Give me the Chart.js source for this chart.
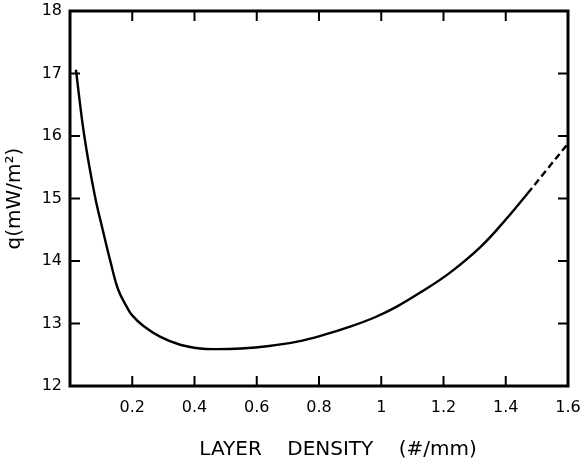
<!DOCTYPE html>
<html>
<head>
<meta charset="utf-8">
<script src="https://cdn.jsdelivr.net/npm/chart.js@4"></script>
<style>
  html, body { margin: 0; padding: 0; background: #fff; }
  #wrap { width: 587px; height: 464px; }
</style>
</head>
<body>
<div id="wrap"><canvas id="heat-graph"></canvas></div>
<script>
// layer density (#/mm) vs heat flux q (mW/m^2)
const densityX = [0.019, 0.046, 0.08, 0.107, 0.131, 0.155, 0.182, 0.2, 0.236, 0.289, 0.354, 0.418, 0.47, 0.55, 0.64, 0.73, 0.81, 0.9, 0.98, 1.05, 1.13, 1.22, 1.32, 1.41, 1.47, 1.53, 1.6];
const heatQ = [17.06, 16.0, 15.04, 14.46, 13.97, 13.54, 13.27, 13.13, 12.96, 12.79, 12.66, 12.6, 12.59, 12.6, 12.64, 12.71, 12.81, 12.95, 13.1, 13.27, 13.51, 13.81, 14.23, 14.72, 15.08, 15.45, 15.88];
// beyond this density the curve is drawn dashed (extrapolated)
const dashFrom = 1.47;
const xTicks = [0, 0.2, 0.4, 0.6, 0.8, 1, 1.2, 1.4, 1.6];
const yTicks = [12, 13, 14, 15, 16, 17, 18];

const FONT = "'DejaVu Sans', sans-serif";

// frame + inward tick marks on all four sides
const frameTicks = {
    id: 'frameTicks',
    afterDatasetsDraw(chart) {
        const { ctx, chartArea: a, scales } = chart;
        const x = scales.x, y = scales.y;
        const len = 10;
        ctx.save();
        ctx.strokeStyle = '#000';
        ctx.lineWidth = 2;
        ctx.beginPath();
        for (let v of xTicks) {
            let px = x.getPixelForValue(v);
            ctx.moveTo(px, a.bottom); ctx.lineTo(px, a.bottom - len);
            ctx.moveTo(px, a.top); ctx.lineTo(px, a.top + len);
        }
        for (let v of yTicks) {
            let py = y.getPixelForValue(v);
            ctx.moveTo(a.left, py); ctx.lineTo(a.left + len, py);
            ctx.moveTo(a.right, py); ctx.lineTo(a.right - len, py);
        }
        ctx.stroke();
        ctx.lineWidth = 3;
        ctx.strokeRect(a.left, a.top, a.right - a.left, a.bottom - a.top);
        ctx.restore();
    }
};

var ctx = document.getElementById('heat-graph');
var chart = new Chart(ctx, {
    type: 'line',
    data: {
        datasets: [
            {
                label: 'q',
                data: densityX.map((d, i) => ({ x: d, y: heatQ[i] })),
                borderColor: '#000',
                borderWidth: 2.4,
                pointRadius: 0,
                fill: false,
                tension: 0.4,
                segment: {
                    borderDash: c => c.p0.parsed.x >= dashFrom ? [7, 4] : undefined
                }
            }
        ]
    },
    options: {
        responsive: true,
        maintainAspectRatio: false,
        animation: false,
        layout: { padding: { top: 11, right: 19, left: 0, bottom: 0 } },
        plugins: {
            legend: { display: false },
            tooltip: { enabled: false }
        },
        scales: {
            x: {
                type: 'linear',
                min: 0,
                max: 1.6,
                afterFit: s => { s.height = 78; s.paddingLeft = 0; s.paddingRight = 0; },
                afterBuildTicks: s => { s.ticks = xTicks.map(v => ({ value: v })); },
                grid: { display: false, drawTicks: false },
                border: { display: false },
                ticks: {
                    padding: 12,
                    color: '#000',
                    font: { family: FONT, size: 16 },
                    callback: v => v === 0 ? '' : String(Math.round(v * 10) / 10)
                },
                title: {
                    display: true,
                    text: '      LAYER    DENSITY    (#/mm)',
                    color: '#000',
                    font: { family: FONT, size: 20 },
                    padding: { top: 0, bottom: 2 }
                }
            },
            y: {
                min: 12,
                max: 18,
                afterFit: s => { s.width = 70; s.paddingTop = 0; s.paddingBottom = 0; },
                afterBuildTicks: s => { s.ticks = yTicks.map(v => ({ value: v })); },
                grid: { display: false, drawTicks: false },
                border: { display: false },
                ticks: {
                    padding: 8,
                    color: '#000',
                    font: { family: FONT, size: 16 },
                    callback: v => String(v)
                },
                title: {
                    display: true,
                    text: 'q(mW/m²)',
                    color: '#000',
                    font: { family: FONT, size: 20 },
                    padding: { top: 3, bottom: 0 }
                }
            }
        }
    },
    plugins: [frameTicks]
});
</script>
</body>
</html>
